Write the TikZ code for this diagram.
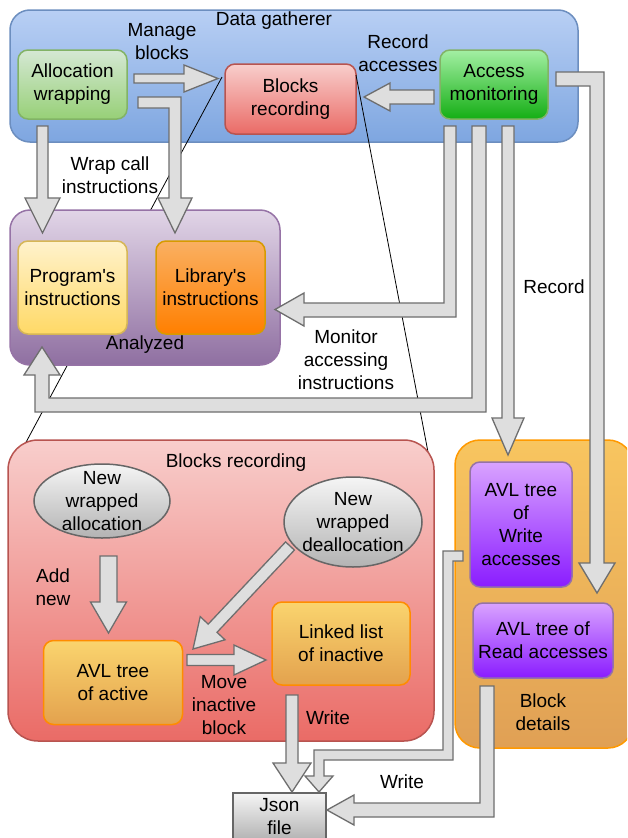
\documentclass[tikz,border=0pt]{standalone}
\usepackage{fontspec}
\setmainfont{Liberation Sans}
\usetikzlibrary{shapes.geometric}
\definecolor{dgTop}{HTML}{B8CFF4}\definecolor{dgBot}{HTML}{7EA6E0}\definecolor{dgLine}{HTML}{6C8EBF}
\definecolor{alTop}{HTML}{D5E8D4}\definecolor{alBot}{HTML}{97D077}\definecolor{alLine}{HTML}{82B366}
\definecolor{brTop}{HTML}{F8CECC}\definecolor{brBot}{HTML}{EA6B66}\definecolor{brLine}{HTML}{B85450}
\definecolor{acTop}{HTML}{A3EFA3}\definecolor{acBot}{HTML}{14AE14}
\definecolor{anTop}{HTML}{E1D5E7}\definecolor{anBot}{HTML}{8F6FA1}\definecolor{anLine}{HTML}{9673A6}
\definecolor{pgTop}{HTML}{FFF2CC}\definecolor{pgBot}{HTML}{FFD966}\definecolor{pgLine}{HTML}{D6B656}
\definecolor{lbTop}{HTML}{FAB062}\definecolor{lbBot}{HTML}{FF7F00}\definecolor{lbLine}{HTML}{D79B00}
\definecolor{gyTop}{HTML}{F5F5F5}\definecolor{gyBot}{HTML}{B3B3B3}\definecolor{gyLine}{HTML}{666666}
\definecolor{orTop}{HTML}{FAD46E}\definecolor{orBot}{HTML}{E3A24E}\definecolor{orLine}{HTML}{FF8C00}
\definecolor{bdTop}{HTML}{F8C55F}\definecolor{bdBot}{HTML}{E0A055}\definecolor{bdLine}{HTML}{FF9900}
\definecolor{puTop}{HTML}{D9A3FF}\definecolor{puBot}{HTML}{8A1CFF}
\definecolor{arFill}{HTML}{DEDEDE}\definecolor{arLine}{HTML}{6E6E6E}
\begin{document}
\begin{tikzpicture}[x=1pt,y=-1pt,
  txt/.style={font=\fontsize{19}{23}\selectfont, align=center, inner sep=0pt},
  rbox/.style={txt, draw, line width=1.5pt, rounded corners=10pt},
  barrow/.style={fill=arFill, draw=arLine, line width=1.3pt, line join=miter},
  thinline/.style={draw=black, line width=0.8pt}]
\useasboundingbox (0,0) rectangle (627,838);
\clip (0,0) rectangle (627,838);
\fill[white] (0,0) rectangle (627,838);

% containers
\node[rbox, rounded corners=20pt, top color=dgTop, bottom color=dgBot, draw=dgLine, minimum width=568pt, minimum height=132pt] (dg) at (294,76) {};
\node[txt] (dglab) at (274,21) {Data gatherer};

\node[rbox, top color=alTop, bottom color=alBot, draw=alLine, minimum width=109pt, minimum height=69pt] (alloc) at (72.5,84.5) {Allocation\\wrapping};
\node[rbox, top color=brTop, bottom color=brBot, draw=brLine, minimum width=131pt, minimum height=70pt] (brec) at (290.5,99) {Blocks\\recording};
\node[rbox, top color=acTop, bottom color=acBot, draw=alLine, minimum width=108pt, minimum height=69pt] (acc) at (494,84.5) {Access\\monitoring};

% zoom lines
\coordinate (zl1) at (24,446);
\coordinate (zl2) at (432,473);
\draw[thinline] (222,77) -- (zl1);
\draw[thinline] (356,75) -- (zl2);

\node[rbox, rounded corners=20pt, top color=anTop, bottom color=anBot, draw=anLine, minimum width=270pt, minimum height=155pt] (an) at (145,287.5) {};
\node[txt] (anlab) at (145,345) {Analyzed};
\node[rbox, top color=pgTop, bottom color=pgBot, draw=pgLine, minimum width=109pt, minimum height=93pt] (prog) at (72.5,287.5) {Program\textquotesingle s\\instructions};
\node[rbox, top color=lbTop, bottom color=lbBot, draw=lbLine, minimum width=109pt, minimum height=93pt] (lib) at (210.5,287.5) {Library\textquotesingle s\\instructions};

\node[rbox, rounded corners=30pt, top color=brTop, bottom color=brBot, draw=brLine, minimum width=426pt, minimum height=301pt] (bbig) at (221,590.5) {};
\node[txt] (bbiglab) at (236,463) {Blocks recording};

\node[draw=gyLine, line width=1.5pt, top color=gyTop, bottom color=gyBot, ellipse, minimum width=136pt, minimum height=74pt, inner sep=0pt] (nal) at (102,501) {};
\node[txt] at (nal) {New\\wrapped\\allocation};
\node[draw=gyLine, line width=1.5pt, top color=gyTop, bottom color=gyBot, ellipse, minimum width=138pt, minimum height=90pt, inner sep=0pt] (ndl) at (353,522) {};
\node[txt] at (ndl) {New\\wrapped\\deallocation};

\node[rbox, top color=orTop, bottom color=orBot, draw=orLine, minimum width=139pt, minimum height=84pt] (avla) at (113,682.5) {AVL tree\\of active};
\node[rbox, top color=orTop, bottom color=orBot, draw=orLine, minimum width=138pt, minimum height=83pt] (ll) at (341,643.5) {Linked list\\of inactive};

\node[rbox, rounded corners=25pt, top color=bdTop, bottom color=bdBot, draw=bdLine, minimum width=178pt, minimum height=308pt] (bd) at (544,594) {};
\node[txt] (bdlab) at (543,712) {Block\\details};
\node[rbox, top color=puTop, bottom color=puBot, draw=anLine, minimum width=102pt, minimum height=125pt] (avlw) at (521,524.5) {AVL tree\\of\\Write\\accesses};
\node[rbox, top color=puTop, bottom color=puBot, draw=anLine, minimum width=140pt, minimum height=75pt] (avlr) at (543,640.5) {AVL tree of\\Read accesses};

\node[draw=gyLine, line width=1.5pt, top color=gyTop, bottom color=gyBot, minimum width=93pt, minimum height=47pt, txt] (json) at (279.5,816.5) {Json\\file};

% labels
\node[txt] at (162,42) {Manage\\blocks};
\node[txt] at (398,53) {Record\\accesses};
\node[txt] at (110,175) {Wrap call\\instructions};
\node[txt] at (346,360) {Monitor\\accessing\\instructions};
\node[txt] at (554,287) {Record};
\node[txt] at (53,587) {Add\\new};
\node[txt] at (224,705) {Move\\inactive\\block};
\node[txt] at (328,718) {Write};
\node[txt] at (402,782) {Write};

% block arrows
% Manage blocks
\draw[barrow] (134,74) -- (184,74) -- (184,65) -- (218,78.5) -- (184,92) -- (184,83) -- (134,83) -- cycle;
% Record accesses
\draw[barrow] (434,90) -- (390,90) -- (390,83) -- (364,97) -- (390,111) -- (390,104) -- (434,104) -- cycle;
% Alloc -> Program's
\draw[barrow] (37,126) -- (48,126) -- (48,198) -- (60,198) -- (42.5,233) -- (25,198) -- (37,198) -- cycle;
% Alloc -> Library's
\draw[barrow] (138,97) -- (181,97) -- (181,198) -- (192,198) -- (175,233) -- (158,198) -- (169,198) -- (169,108) -- (138,108) -- cycle;
% Access -> Library's
\draw[barrow] (444,126) -- (456,126) -- (456,317) -- (304,317) -- (304,326) -- (275,309.5) -- (304,293) -- (304,303) -- (444,303) -- cycle;
% Access -> Program's (loop)
\draw[barrow] (472,126) -- (486,126) -- (486,412) -- (35,412) -- (35,375) -- (24,375) -- (42,347) -- (60,375) -- (49,375) -- (49,398) -- (472,398) -- cycle;
% Record
\draw[barrow] (502,126) -- (514,126) -- (514,418) -- (524,418) -- (508,455) -- (492,418) -- (502,418) -- cycle;
% Access -> Read accesses
\draw[barrow] (556,72) -- (604,72) -- (604,563) -- (615,563) -- (597,593) -- (579,563) -- (590,563) -- (590,86) -- (556,86) -- cycle;
% Add new
\draw[barrow] (100,556) -- (117,556) -- (117,602) -- (126.5,602) -- (108.5,633) -- (90.5,602) -- (100,602) -- cycle;
% dealloc -> active
\draw[barrow] (285.6,541.9) -- (294.4,550.1) -- (217,632.3) -- (225,639.8) -- (193,649) -- (200.2,616.6) -- (208.2,624.1) -- cycle;
% Move inactive block
\draw[barrow] (187,654.5) -- (234,654.5) -- (234,645) -- (266,660) -- (234,675) -- (234,665.5) -- (187,665.5) -- cycle;
% Write (linked list -> json)
\draw[barrow] (286,695) -- (298,695) -- (298,763) -- (311,763) -- (292,792) -- (273,763) -- (286,763) -- cycle;
% Write accesses -> json
\draw[barrow] (463,551) -- (443,551) -- (443,750) -- (314,750) -- (314,776) -- (305,776) -- (319,792) -- (333,776) -- (324,776) -- (324,760) -- (453,760) -- (453,561) -- (463,561) -- cycle;
% Read accesses -> json
\draw[barrow] (480,686) -- (494,686) -- (494,817) -- (354,817) -- (354,825) -- (327,810) -- (354,795) -- (354,803) -- (480,803) -- cycle;
\end{tikzpicture}
\end{document}
